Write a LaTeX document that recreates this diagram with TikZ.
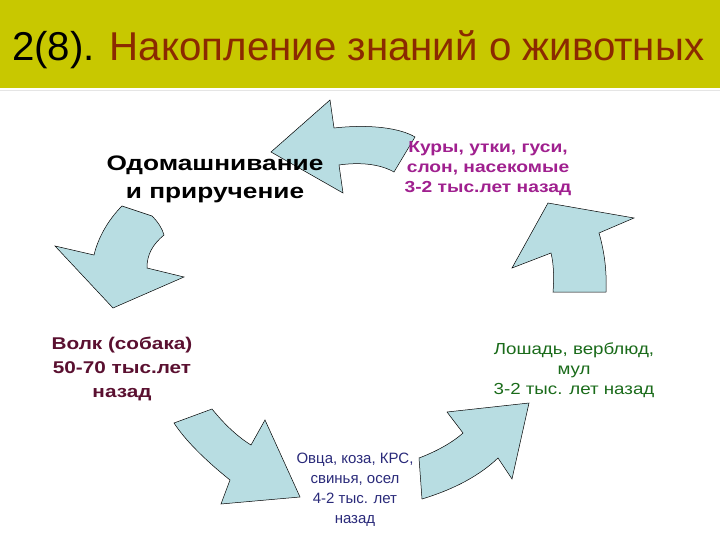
\documentclass[tikz,border=0pt]{standalone}
\usepackage{fontspec}
\setmainfont{Liberation Sans}
\definecolor{bar}{HTML}{C8C800}
\definecolor{ttl}{HTML}{8B2A00}
\definecolor{afill}{HTML}{B8DDE2}
\definecolor{magt}{HTML}{A0208F}
\definecolor{maroon}{HTML}{5A1030}
\definecolor{dgreen}{HTML}{1A6B1A}
\definecolor{navy}{HTML}{2A2A7A}
\begin{document}
\begin{tikzpicture}[x=1pt,y=-1pt,
  arr/.style={fill=afill,draw=black,line width=0.5pt,line join=miter},
  lbl/.style={align=center,inner sep=0pt}]
\useasboundingbox (0,0) rectangle (720,540);
\fill[white] (0,0) rectangle (720,540);
\fill[bar] (0,0) rectangle (720,88);
\draw[gray!20] (0,90) -- (720,90);
\node[inner sep=0pt,anchor=west,font=\fontsize{33}{36}\selectfont] (title) at (12,50)
  {\resizebox{692pt}{!}{2(8). \textcolor{ttl}{Накопление знаний о животных}}};
% arrow 1 (top, pointing left)
\draw[arr] (271,152) -- (330,100) -- (334,128) .. controls (370,124) and (400,128) .. (415,137)
  -- (394,172) .. controls (380,164) and (360,162) .. (339,165) -- (343,193) -- cycle;
% arrow 2 (left, pointing down)
\draw[arr] (113,308) -- (55,246) -- (94,255) .. controls (98,238) and (108,220) .. (122,206)
  -- (152,216) .. controls (158,222) and (162,228) .. (164,235) .. controls (152,245) and (147,255) .. (147,268)
  -- (184,277) -- cycle;
% arrow 3 (bottom left, pointing right-down)
\draw[arr] (300,497) -- (221,504) -- (230,480) .. controls (205,460) and (185,440) .. (174,423)
  -- (212,409) .. controls (225,425) and (238,437) .. (251,445) -- (265,420) -- cycle;
% arrow 4 (bottom right, pointing up-right)
\draw[arr] (529,403) -- (512,479) -- (498,458) .. controls (475,480) and (445,492) .. (422,499)
  -- (419,458) .. controls (435,452) and (452,443) .. (463,433) -- (447,412) -- cycle;
% arrow 5 (right, pointing up-left)
\draw[arr] (548,203) -- (512,268) -- (551,253) .. controls (554,265) and (554,280) .. (553,292)
  -- (606,292) .. controls (607,270) and (604,250) .. (599,233) -- (634,218) -- cycle;
% labels
\node[lbl] (dom) at (215,179) {\scalebox{1.25}[1]{\bfseries\fontsize{21}{28}\selectfont\begin{tabular}{@{}c@{}}Одомашнивание\\и приручение\end{tabular}}};
\node[lbl,text=magt] (kury) at (488,169) {\scalebox{1.2}[1]{\bfseries\fontsize{16}{20}\selectfont\begin{tabular}{@{}c@{}}Куры, утки, гуси,\\слон, насекомые\\3-2 тыс.лет назад\end{tabular}}};
\node[lbl,text=maroon] (volk) at (122,369) {\scalebox{1.22}[1]{\bfseries\fontsize{17}{24}\selectfont\begin{tabular}{@{}c@{}}Волк (собака)\\50-70 тыс.лет\\назад\end{tabular}}};
\node[lbl,text=dgreen] (losh) at (574,370) {\scalebox{1.17}[1]{\fontsize{16}{20}\selectfont\begin{tabular}{@{}c@{}}Лошадь, верблюд,\\мул\\3-2 тыс. лет назад\end{tabular}}};
\node[lbl,text=navy] (ovca) at (355,489) {\fontsize{15}{20}\selectfont\begin{tabular}{@{}c@{}}Овца, коза, КРС,\\свинья, осел\\4-2 тыс. лет\\назад\end{tabular}};
\end{tikzpicture}
\end{document}
